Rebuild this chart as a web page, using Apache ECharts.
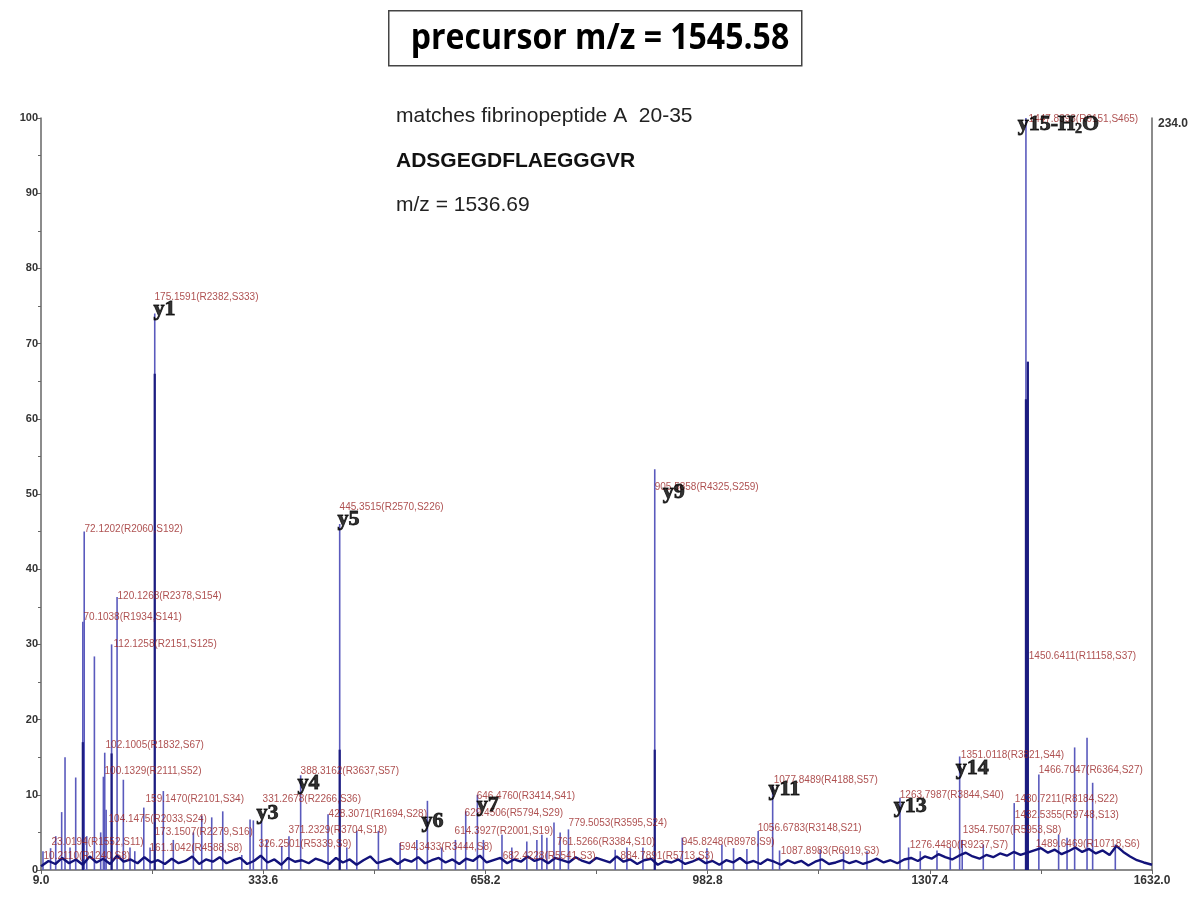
<!DOCTYPE html>
<html>
<head>
<meta charset="utf-8">
<script src="https://cdn.jsdelivr.net/npm/echarts@6/dist/echarts.min.js"></script>
<style>
  html, body { margin: 0; padding: 0; background: #fff; }
  #main { width: 1200px; height: 900px; }
</style>
</head>
<body>
<div id="main"></div>
<script>
// x ticks (m/z) and y ticks (relative intensity)
const xTicks = [9.0, 333.6, 658.2, 982.8, 1307.4, 1632.0];
const xMinorTicks = [9.0, 171.3, 333.6, 495.9, 658.2, 820.5, 982.8, 1145.1, 1307.4, 1469.7, 1632.0];

// centroid peaks [m/z, intensity]
const peaks = [
  [11.9, 2.5], [23.0, 2.9], [30.5, 4.5], [39.2, 7.7], [44.1, 15.0], [51.4, 3.0], [59.7, 12.3],
  [70.10, 33.0], [72.12, 45.0], [75.8, 4.5], [87.0, 28.4], [96.2, 5.0], [100.13, 12.4],
  [102.10, 15.6], [104.15, 8.0], [112.13, 30.0], [120.13, 36.3], [129.3, 12.0], [139.0, 3.0],
  [146.0, 2.5], [159.15, 8.3], [168.3, 3.0], [175.16, 74.0], [187.7, 10.5], [202.3, 4.0],
  [231.6, 5.0], [243.8, 7.2], [258.4, 7.0], [274.5, 7.8], [302.3, 2.0], [314.4, 6.7],
  [319.2, 6.6], [331.27, 6.5], [338.8, 4.0], [360.7, 3.2], [371.23, 4.5], [388.32, 12.6],
  [428.31, 7.4], [445.35, 46.0], [455.7, 3.0], [470.3, 5.2], [501.9, 5.2], [533.6, 3.6],
  [558.0, 4.0], [573.5, 9.2], [594.34, 3.0], [614.39, 4.0], [629.45, 7.8], [646.48, 10.0],
  [655.3, 4.0], [682.42, 4.7], [696.8, 3.0], [718.7, 3.8], [733.4, 4.0], [740.7, 4.7],
  [748.0, 4.3], [758.4, 6.3], [767.4, 5.0], [779.51, 5.4], [847.8, 2.7], [864.9, 3.0],
  [888.3, 3.0], [905.59, 53.3], [945.82, 4.3], [981.8, 2.9], [1003.7, 3.4], [1020.7, 2.9],
  [1040.2, 2.8], [1056.68, 5.2], [1077.85, 11.2], [1087.9, 2.6], [1147.4, 2.7], [1181.4, 2.5],
  [1215.6, 2.5], [1263.80, 9.6], [1276.45, 3.0], [1293.5, 2.5], [1317.9, 2.6], [1337.3, 3.0],
  [1351.01, 15.1], [1354.75, 4.0], [1385.5, 3.4], [1430.72, 8.9], [1447.84, 100], [1450.64, 67.6],
  [1466.70, 12.7], [1495.6, 4.7], [1507.9, 4.3], [1519.0, 16.3], [1537.1, 17.6], [1545.3, 11.6],
  [1578.4, 3.4]
];

// darker profile cores of the big peaks
const cores = [
  [70.10, 17.0], [112.13, 15.5], [175.16, 66.0], [445.35, 16.0], [905.59, 16.0],
  [1447.84, 62.6], [1450.64, 67.6]
];

// noisy baseline [m/z, intensity]
const baseline = [
  [9, 0.5], [20, 1.2], [30, 0.8], [40, 1.6], [50, 0.9], [60, 1.4], [70, 0.7], [80, 1.8],
  [90, 1.0], [100, 1.5], [110, 0.8], [120, 1.9], [130, 1.1], [140, 1.4], [150, 0.9], [160, 1.7],
  [170, 1.0], [180, 1.3], [190, 0.8], [200, 1.5], [210, 0.9], [220, 1.2], [230, 1.8], [240, 0.8],
  [250, 1.4], [260, 1.1], [270, 1.7], [280, 0.9], [290, 1.3], [300, 1.6], [310, 0.8], [320, 1.2],
  [330, 1.9], [340, 1.0], [350, 1.4], [360, 0.7], [370, 1.6], [380, 1.1], [390, 1.3], [400, 0.9],
  [410, 1.5], [420, 1.2], [430, 0.8], [440, 1.6], [450, 1.0], [460, 1.4], [470, 0.7], [480, 1.3],
  [490, 1.8], [500, 0.9], [510, 1.2], [520, 1.5], [530, 0.8], [540, 1.4], [550, 1.1], [560, 1.7],
  [570, 0.9], [580, 1.3], [590, 1.6], [600, 1.0], [610, 1.4], [620, 0.8], [630, 1.5], [640, 1.2],
  [650, 1.9], [660, 1.0], [670, 1.3], [680, 1.6], [690, 0.9], [700, 1.4], [710, 1.1], [720, 1.8],
  [730, 1.2], [740, 1.5], [750, 0.9], [760, 1.6], [770, 1.3], [780, 1.0], [790, 1.7], [800, 1.2],
  [810, 0.9], [820, 1.6], [830, 1.3], [840, 1.0], [850, 1.8], [860, 1.1], [870, 1.4], [880, 0.8],
  [890, 1.3], [900, 1.5], [910, 0.7], [920, 1.2], [930, 1.0], [940, 1.4], [950, 0.8], [960, 1.1],
  [970, 1.5], [980, 0.9], [990, 1.2], [1000, 0.7], [1010, 1.3], [1020, 1.0], [1030, 1.6], [1040, 0.9],
  [1050, 1.2], [1060, 0.8], [1070, 1.4], [1080, 1.1], [1090, 0.7], [1100, 1.3], [1110, 0.9], [1120, 1.2],
  [1130, 0.6], [1140, 1.1], [1150, 1.4], [1160, 0.8], [1170, 1.0], [1180, 1.3], [1190, 0.9], [1200, 1.2],
  [1210, 0.8], [1220, 1.1], [1230, 1.5], [1240, 1.0], [1250, 1.3], [1260, 0.9], [1270, 1.4], [1280, 1.6],
  [1290, 1.2], [1300, 1.8], [1310, 1.5], [1320, 2.1], [1330, 1.7], [1340, 1.4], [1350, 1.9], [1360, 2.3],
  [1370, 1.8], [1380, 1.5], [1390, 2.0], [1400, 1.7], [1410, 2.2], [1420, 1.9], [1430, 2.4], [1440, 2.0],
  [1460, 2.6], [1470, 2.9], [1480, 2.3], [1490, 2.7], [1500, 2.1], [1510, 2.5], [1520, 3.0], [1530, 2.4],
  [1540, 2.8], [1550, 2.2], [1560, 2.6], [1570, 2.0], [1580, 3.2], [1590, 2.4], [1600, 1.8], [1610, 1.3],
  [1620, 1.0], [1632, 0.7]
];

// peak annotations [text, m/z, intensity]
const peakLabels = [
  ['175.1591(R2382,S333)', 174.1, 76.1], ['72.1202(R2060,S192)', 71.8, 45.3],
  ['120.1268(R2378,S154)', 120.1, 36.4], ['70.1038(R1934,S141)', 70.4, 33.6],
  ['112.1258(R2151,S125)', 114.2, 30.0], ['102.1005(R1832,S67)', 102.5, 16.6],
  ['100.1329(R2111,S52)', 101.1, 13.1], ['159.1470(R2101,S34)', 161.0, 9.4],
  ['104.1475(R2033,S24)', 106.9, 6.7], ['173.1507(R2279,S16)', 174.1, 5.0],
  ['23.0194(R1552,S11)', 23.6, 3.7], ['161.1042(R4588,S8)', 166.8, 2.9],
  ['10.2110(R1240,S8)', 12.0, 1.8], ['388.3162(R3637,S57)', 387.5, 13.1],
  ['331.2678(R2266,S36)', 332.0, 9.4], ['428.3071(R1694,S28)', 428.4, 7.4],
  ['371.2329(R3704,S18)', 370.0, 5.3], ['326.2501(R5339,S9)', 326.0, 3.4],
  ['445.3515(R2570,S226)', 444.5, 48.2], ['646.4760(R3414,S41)', 644.7, 9.8],
  ['629.4506(R5794,S29)', 627.1, 7.5], ['614.3927(R2001,S19)', 612.5, 5.1],
  ['594.3433(R3444,S8)', 532.0, 3.0], ['779.5053(R3595,S24)', 779.0, 6.2],
  ['761.5266(R3384,S10)', 761.6, 3.7], ['682.4228(R5541,S3)', 682.7, 1.8],
  ['884.7891(R5713,S3)', 855.0, 1.8], ['905.5858(R4325,S259)', 904.8, 50.9],
  ['945.8248(R8978,S9)', 944.2, 3.7], ['1077.8489(R4188,S57)', 1078.7, 12.0],
  ['1056.6783(R3148,S21)', 1055.3, 5.5], ['1087.8983(R6919,S3)', 1089.0, 2.5],
  ['1263.7987(R3844,S40)', 1262.8, 10.0], ['1276.4480(R9237,S7)', 1277.4, 3.3],
  ['1351.0118(R3821,S44)', 1352.0, 15.2], ['1354.7507(R5953,S8)', 1354.9, 5.3],
  ['1430.7211(R8184,S22)', 1430.9, 9.4], ['1432.5355(R9748,S13)', 1430.9, 7.3],
  ['1466.7047(R6364,S27)', 1465.9, 13.2], ['1450.6411(R11158,S37)', 1451.3, 28.4],
  ['1489.6469(R10718,S6)', 1461.5, 3.4], ['1447.8393(R9151,S465)', 1451.0, 99.9]
];

// fragment ion names [text, m/z, intensity]
const ionLabels = [
  ['y1', 172.7, 74.5], ['y3', 323.0, 7.5], ['y4', 383.0, 11.5], ['y5', 441.5, 46.6],
  ['y6', 564.0, 6.5], ['y7', 644.7, 8.6], ['y9', 916.5, 50.2], ['y11', 1071.0, 10.7],
  ['y13', 1254.0, 8.5], ['y14', 1344.6, 13.5], ['y15-H2O', 1435.0, 99.2]
];

const chart = echarts.init(document.getElementById('main'));

const stick = (color, width) => (params, api) => {
  const p0 = api.coord([api.value(0), 0]);
  const p1 = api.coord([api.value(0), api.value(1)]);
  return {
    type: 'line',
    shape: { x1: p0[0], y1: p0[1], x2: p1[0], y2: p1[1] },
    style: { stroke: color, lineWidth: width }
  };
};

const ionFont = {
  fontFamily: 'Liberation Serif', fontWeight: 'bold', fontSize: 22, color: '#000',
  textBorderColor: '#000', textBorderWidth: 0.9
};

const option = {
  backgroundColor: '#fff',
  animation: false,
  grid: { left: 41, right: 48, top: 118, bottom: 30 },
  xAxis: {
    type: 'value',
    min: 9,
    max: 1632,
    axisLine: { lineStyle: { color: '#666', width: 1.5 } },
    axisTick: { customValues: xMinorTicks, length: 4, lineStyle: { color: '#666' } },
    axisLabel: {
      customValues: xTicks,
      formatter: v => v.toFixed(1),
      fontFamily: 'Liberation Sans', fontWeight: 'bold', fontSize: 12, color: '#333', margin: 5
    },
    splitLine: { show: false }
  },
  yAxis: [{
    type: 'value',
    min: 0,
    max: 100,
    interval: 10,
    axisLine: { show: true, lineStyle: { color: '#666', width: 1.5 } },
    axisTick: { show: true, length: 4, lineStyle: { color: '#666' } },
    minorTick: { show: true, splitNumber: 2, length: 3, lineStyle: { color: '#666' } },
    axisLabel: { fontFamily: 'Liberation Sans', fontWeight: 'bold', fontSize: 11, color: '#333', margin: 3 },
    splitLine: { show: false }
  }, {
    type: 'value',
    position: 'right',
    min: 0,
    max: 100,
    axisLine: { show: true, lineStyle: { color: '#666', width: 1.5 } },
    axisTick: { show: false },
    axisLabel: { show: false },
    splitLine: { show: false }
  }],
  graphic: [
    {
      type: 'rect', left: 388, top: 10, z: 10,
      shape: { width: 413, height: 55 },
      style: { fill: '#fff', stroke: '#444', lineWidth: 1.5 }
    },
    {
      type: 'text', left: 'center', top: 21, z: 11, scaleY: 1.1,
      style: { text: 'precursor m/z = 1545.58', font: 'bold 32px "Open Sans"', fill: '#000' }
    },
    {
      type: 'text', left: 396, top: 106,
      style: { text: 'matches fibrinopeptide A  20-35', font: '21px "Liberation Sans"', fill: '#222' }
    },
    {
      type: 'text', left: 396, top: 151,
      style: { text: 'ADSGEGDFLAEGGGVR', font: 'bold 21px "Liberation Sans"', fill: '#111' }
    },
    {
      type: 'text', left: 396, top: 195,
      style: { text: 'm/z = 1536.69', font: '21px "Liberation Sans"', fill: '#222' }
    },
    {
      type: 'text', left: 1158, top: 118,
      style: { text: '234.0', font: 'bold 12px "Liberation Sans"', fill: '#333' }
    }
  ],
  series: [
    {
      name: 'peaks',
      type: 'custom',
      renderItem: stick('#5a5abd', 1.6),
      data: peaks,
      z: 2
    },
    {
      name: 'cores',
      type: 'custom',
      renderItem: stick('#1c1c80', 2.2),
      data: cores,
      z: 3
    },
    {
      name: 'baseline',
      type: 'line',
      data: baseline,
      symbol: 'none',
      lineStyle: { color: '#12127a', width: 2.4 },
      z: 4
    },
    {
      name: 'peak labels',
      type: 'scatter',
      clip: false,
      symbolSize: 1,
      itemStyle: { color: 'transparent' },
      data: peakLabels.map(d => ({ name: d[0], value: [d[1], d[2]] })),
      label: {
        show: true,
        position: 'right',
        distance: 0,
        formatter: '{b}',
        fontFamily: 'Liberation Sans',
        fontSize: 10,
        color: '#9a2424'
      },
      z: 5
    },
    {
      name: 'ion labels',
      type: 'scatter',
      clip: false,
      symbolSize: 1,
      itemStyle: { color: 'transparent' },
      data: ionLabels.map(d => ({ name: d[0], value: [d[1], d[2]] })),
      label: Object.assign({
        show: true,
        position: 'right',
        distance: 0,
        formatter: p => p.name === 'y15-H2O' ? '{a|y15-H}{s|2}{a|O}' : p.name,
        rich: {
          a: Object.assign({ lineHeight: 24 }, ionFont),
          s: Object.assign({}, ionFont, { fontSize: 14, verticalAlign: 'bottom', lineHeight: 24, textBorderWidth: 0.6 })
        }
      }, ionFont),
      z: 6
    }
  ]
};

chart.setOption(option);
</script>
</body>
</html>
